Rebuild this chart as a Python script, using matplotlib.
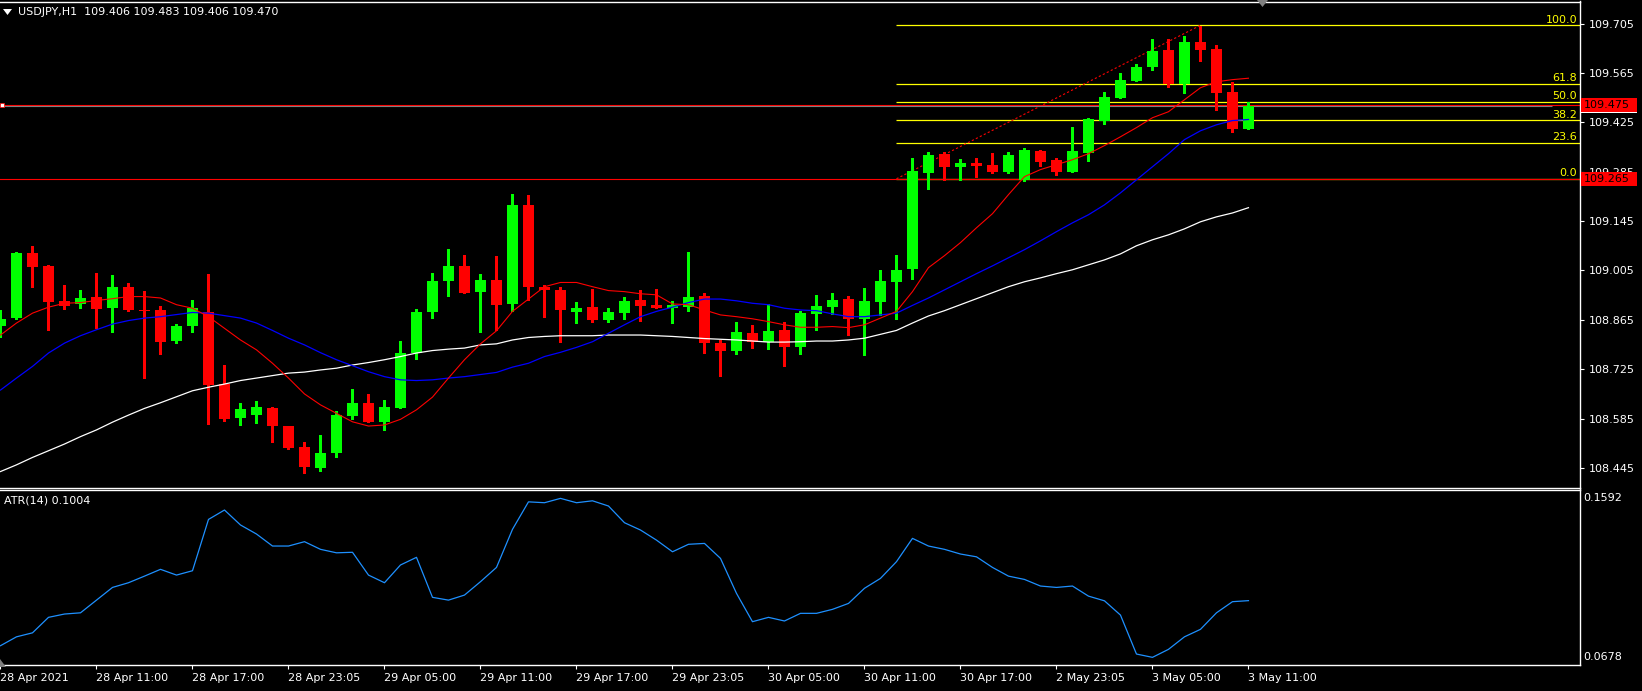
import numpy as np
import matplotlib
matplotlib.use('Agg')
import matplotlib.pyplot as plt
from matplotlib.patches import Rectangle, Polygon
from matplotlib.transforms import blended_transform_factory

# USDJPY H1 candles (bar 0 = 28 Apr 05:00, bar 78 = 3 May 11:00)
opens = [108.849, 108.871, 109.055, 109.018, 108.919, 108.910, 108.930, 108.900, 108.959, 108.893,
         108.893, 108.806, 108.849, 108.888, 108.684, 108.588, 108.595, 108.616, 108.564, 108.505,
         108.446, 108.488, 108.593, 108.629, 108.576, 108.616, 108.771, 108.886, 108.974, 109.018,
         108.945, 108.978, 108.911, 109.191, 108.957, 108.950, 108.888, 108.902, 108.865, 108.885,
         108.922, 108.908, 108.899, 108.902, 108.933, 108.800, 108.778, 108.828, 108.803, 108.837,
         108.787, 108.883, 108.902, 108.925, 108.868, 108.916, 108.973, 109.010, 109.282, 109.336,
         109.299, 109.311, 109.305, 109.285, 109.262, 109.345, 109.319, 109.285, 109.339, 109.430,
         109.495, 109.543, 109.583, 109.631, 109.535, 109.654, 109.634, 109.512, 109.406]
highs = [108.893, 109.057, 109.075, 109.020, 108.964, 108.950, 108.999, 108.993, 108.970, 108.947,
         108.905, 108.853, 108.922, 108.996, 108.737, 108.629, 108.635, 108.618, 108.564, 108.519,
         108.539, 108.607, 108.669, 108.655, 108.638, 108.805, 108.896, 108.999, 109.066, 109.050,
         108.996, 109.047, 109.223, 109.220, 108.964, 108.959, 108.916, 108.953, 108.899, 108.930,
         108.950, 108.953, 108.919, 109.058, 108.942, 108.808, 108.859, 108.851, 108.910, 108.859,
         108.891, 108.936, 108.942, 108.933, 108.956, 109.007, 109.050, 109.325, 109.342, 109.342,
         109.322, 109.325, 109.339, 109.342, 109.353, 109.347, 109.325, 109.413, 109.438, 109.512,
         109.566, 109.591, 109.662, 109.660, 109.671, 109.699, 109.643, 109.540, 109.483]
lows = [108.815, 108.868, 108.957, 108.837, 108.895, 108.900, 108.843, 108.832, 108.889, 108.701,
        108.767, 108.798, 108.832, 108.570, 108.579, 108.567, 108.574, 108.520, 108.498, 108.432,
        108.437, 108.477, 108.585, 108.576, 108.554, 108.616, 108.755, 108.869, 108.934, 108.940,
        108.832, 108.837, 108.889, 108.921, 108.872, 108.801, 108.857, 108.860, 108.860, 108.868,
        108.862, 108.898, 108.856, 108.891, 108.771, 108.707, 108.767, 108.786, 108.781, 108.735,
        108.769, 108.837, 108.882, 108.821, 108.764, 108.879, 108.868, 108.981, 109.237, 109.262,
        109.262, 109.271, 109.282, 109.282, 109.259, 109.302, 109.276, 109.285, 109.316, 109.421,
        109.494, 109.543, 109.572, 109.526, 109.509, 109.600, 109.461, 109.398, 109.406]
closes = [108.868, 109.055, 109.014, 108.917, 108.903, 108.927, 108.897, 108.959, 108.894, 108.891,
          108.803, 108.848, 108.899, 108.681, 108.584, 108.612, 108.618, 108.565, 108.503, 108.449,
          108.488, 108.595, 108.629, 108.576, 108.618, 108.771, 108.888, 108.976, 109.018, 108.940,
          108.978, 108.908, 109.191, 108.957, 108.951, 108.894, 108.899, 108.865, 108.888, 108.919,
          108.905, 108.899, 108.906, 108.930, 108.798, 108.778, 108.831, 108.803, 108.834, 108.787,
          108.885, 108.905, 108.922, 108.868, 108.919, 108.976, 109.007, 109.288, 109.333, 109.299,
          109.311, 109.302, 109.285, 109.333, 109.347, 109.313, 109.285, 109.345, 109.435, 109.498,
          109.546, 109.583, 109.628, 109.535, 109.654, 109.631, 109.509, 109.407, 109.470]

# moving averages as drawn on the chart
ma_red = [108.822, 108.856, 108.884, 108.901, 108.912, 108.914, 108.920, 108.925, 108.931, 108.931,
          108.927, 108.908, 108.898, 108.874, 108.841, 108.808, 108.780, 108.742, 108.700, 108.655,
          108.624, 108.600, 108.576, 108.564, 108.567, 108.583, 108.610, 108.646, 108.700, 108.752,
          108.797, 108.834, 108.889, 108.924, 108.959, 108.971, 108.971, 108.959, 108.948, 108.945,
          108.939, 108.936, 108.910, 108.908, 108.893, 108.879, 108.874, 108.868, 108.860, 108.851,
          108.844, 108.844, 108.846, 108.843, 108.851, 108.870, 108.889, 108.945, 109.013, 109.047,
          109.084, 109.126, 109.166, 109.220, 109.271, 109.291, 109.305, 109.319, 109.336, 109.359,
          109.384, 109.410, 109.438, 109.455, 109.489, 109.523, 109.540, 109.546, 109.550]
ma_blue = [108.666, 108.700, 108.733, 108.771, 108.799, 108.820, 108.837, 108.853, 108.863, 108.870,
           108.874, 108.880, 108.886, 108.884, 108.877, 108.870, 108.856, 108.835, 108.813, 108.794,
           108.772, 108.752, 108.735, 108.718, 108.704, 108.695, 108.693, 108.695, 108.700, 108.704,
           108.710, 108.716, 108.731, 108.742, 108.761, 108.773, 108.787, 108.803, 108.827, 108.851,
           108.874, 108.889, 108.901, 108.914, 108.924, 108.924, 108.919, 108.912, 108.908, 108.898,
           108.893, 108.891, 108.882, 108.874, 108.874, 108.879, 108.884, 108.906, 108.927, 108.950,
           108.973, 108.996, 109.018, 109.041, 109.064, 109.089, 109.115, 109.140, 109.163, 109.191,
           109.225, 109.262, 109.299, 109.336, 109.376, 109.401, 109.418, 109.430, 109.433]
ma_white = [108.435, 108.454, 108.475, 108.494, 108.513, 108.534, 108.553, 108.575, 108.595, 108.614,
            108.630, 108.647, 108.664, 108.674, 108.683, 108.693, 108.700, 108.707, 108.714, 108.717,
            108.723, 108.728, 108.737, 108.744, 108.752, 108.761, 108.771, 108.778, 108.782, 108.785,
            108.794, 108.797, 108.808, 108.815, 108.818, 108.820, 108.820, 108.820, 108.822, 108.822,
            108.822, 108.820, 108.818, 108.815, 108.812, 108.810, 108.808, 108.805, 108.802, 108.802,
            108.803, 108.805, 108.805, 108.808, 108.813, 108.824, 108.835, 108.856, 108.876, 108.891,
            108.908, 108.925, 108.942, 108.959, 108.973, 108.984, 108.996, 109.007, 109.021, 109.035,
            109.052, 109.075, 109.092, 109.106, 109.123, 109.143, 109.157, 109.168, 109.183]

atr = [0.0745, 0.0796, 0.0819, 0.0908, 0.0927, 0.0934, 0.1007, 0.1080, 0.1107, 0.1145,
       0.1184, 0.1151, 0.1176, 0.1471, 0.1525, 0.1439, 0.1387, 0.1318, 0.1318, 0.1343,
       0.1299, 0.1279, 0.1282, 0.1151, 0.1107, 0.1209, 0.1253, 0.1023, 0.1007, 0.1036,
       0.1113, 0.1195, 0.1414, 0.1572, 0.1567, 0.1592, 0.1567, 0.1578, 0.1548, 0.1452,
       0.1410, 0.1352, 0.1285, 0.1328, 0.1333, 0.1247, 0.1046, 0.0883, 0.0908, 0.0887,
       0.0931, 0.0931, 0.0954, 0.0988, 0.1075, 0.1132, 0.1228, 0.1362, 0.1318, 0.1299,
       0.1272, 0.1256, 0.1195, 0.1145, 0.1126, 0.1088, 0.1080, 0.1088, 0.1030, 0.1003,
       0.0921, 0.0697, 0.0678, 0.0724, 0.0796, 0.0839, 0.0934, 0.0998, 0.1004]

price_ticks = [108.445, 108.585, 108.725, 108.865, 109.005, 109.145, 109.285, 109.425, 109.565, 109.705]
time_ticks = [0, 6, 12, 18, 24, 30, 36, 42, 48, 54, 60, 66, 72, 78]
time_labels = ['28 Apr 2021', '28 Apr 11:00', '28 Apr 17:00', '28 Apr 23:05', '29 Apr 05:00',
               '29 Apr 11:00', '29 Apr 17:00', '29 Apr 23:05', '30 Apr 05:00', '30 Apr 11:00',
               '30 Apr 17:00', '2 May 23:05', '3 May 05:00', '3 May 11:00']

fib_start, fib_end = 56, 75
fib_low, fib_high = 109.265, 109.700
fib_ratios = [0.0, 0.236, 0.382, 0.5, 0.618, 1.0]
fib_names = ['0.0', '23.6', '38.2', '50.0', '61.8', '100.0']
hline_price = 109.475
bid_price = closes[-1]

W, H = 1642, 691
FS = 8
plt.rcParams['font.family'] = ['DejaVu Sans']

fig = plt.figure(figsize=(W / 100, H / 100), dpi=100, facecolor='black')
ax = fig.add_axes([0, 1 - 487.7 / H, 1579.5 / W, (487.7 - 1.5) / H], facecolor='black')
atr_ax = fig.add_axes([0, 1 - 665 / H, 1579.5 / W, (665 - 489.5) / H], facecolor='black')

xlim = (-0.031, 98.69)
ylim = (108.3892, 109.7675)
px_price = (ylim[1] - ylim[0]) / (487.7 - 1.5)

x = np.arange(len(opens))
o, h, l, c = map(np.array, (opens, highs, lows, closes))
up = c >= o
cols = np.where(up, '#00FF00', '#FF0000')

# candles
ax.vlines(x, l, h, colors=cols, linewidth=0.75, antialiased=False, zorder=2)
ax.bar(x, np.maximum(np.abs(c - o), px_price), bottom=np.minimum(o, c), width=0.69,
       color=cols, edgecolor='none', antialiased=False, zorder=3)

ax.plot(x, ma_white, color='white', lw=0.9, zorder=4)
ax.plot(x, ma_blue, color='#0000FF', lw=0.9, zorder=4)
ax.plot(x, ma_red, color='#FF0000', lw=0.8, zorder=4)

# fibonacci retracement
fib_levels = [fib_low + r * (fib_high - fib_low) for r in fib_ratios]
ax.hlines(fib_levels, fib_start, xlim[1], colors='#FFFF00', lw=0.9, zorder=1)
ax.plot([fib_start, fib_end], [fib_low, fib_high], color='#FF0000', lw=0.8, ls=(0, (2, 2)), zorder=1)
lab_tf = blended_transform_factory(ax.transAxes, ax.transData)
for lev, name in zip(fib_levels, fib_names):
    ax.text(0.9986, lev + 0.6 * px_price, name, transform=lab_tf, ha='right', va='bottom',
            color='#FFFF00', fontsize=FS)

# horizontal lines
ax.axhline(fib_low, color='#FF0000', lw=0.8, zorder=1)
ax.axhline(hline_price, color='#FF0000', lw=0.8, zorder=1)
ax.hlines(bid_price, xlim[0], (1552 - 0.5) / 16, colors='#808080', lw=0.8, zorder=1)

ax.set_xlim(xlim)
ax.set_ylim(ylim)
ax.set_yticks(price_ticks)
ax.set_yticklabels([f'{p:.3f}' for p in price_ticks])
ax.yaxis.tick_right()
ax.tick_params(axis='y', colors='white', length=3, width=0.8, pad=4, labelsize=FS)
ax.tick_params(axis='x', bottom=False, labelbottom=False)

atr_ax.plot(x, atr, color='#1E90FF', lw=0.9)
atr_ax.set_xlim(xlim)
atr_ax.set_ylim(0.0634, 0.1643)
atr_ax.set_yticks([])
atr_ax.set_xticks(time_ticks)
atr_ax.set_xticklabels(time_labels, ha='left')
atr_ax.tick_params(axis='x', colors='white', length=3, width=0.8, pad=3, labelsize=FS)

for a in (ax, atr_ax):
    a.spines['left'].set_visible(False)
    for s in ('top', 'right', 'bottom'):
        a.spines[s].set_color('white')
        a.spines[s].set_linewidth(1.0)

# price boxes on the right scale
price_tf = blended_transform_factory(fig.transFigure, ax.transData)
for price, fc in ((bid_price, 'white'), (hline_price, '#FF0000'), (fib_low, '#FF0000')):
    fig.add_artist(Rectangle((1581 / W, price - 7 * px_price), 56 / W, 14 * px_price,
                             transform=price_tf, facecolor=fc, edgecolor='none', zorder=5))
for price in (hline_price, fib_low):
    fig.text(1584 / W, price, f'{price:.3f}', transform=price_tf, va='center', ha='left',
             color='black', fontsize=FS, zorder=6)
fig.add_artist(Rectangle((0, hline_price - 2 * px_price), 4 / W, 4 * px_price, transform=price_tf,
                         facecolor='white', edgecolor='#FF0000', lw=0.5, zorder=5))

atr_tf = blended_transform_factory(fig.transFigure, atr_ax.transData)
for v in (max(atr), min(atr)):
    fig.text(1583 / W, v, f'{v:.4f}', transform=atr_tf, va='center', ha='left',
             color='white', fontsize=FS)

# header texts and markers
fig.add_artist(Polygon([(3 / W, 1 - 9 / H), (12 / W, 1 - 9 / H), (7.5 / W, 1 - 15 / H)],
                       closed=True, transform=fig.transFigure, facecolor='white', edgecolor='none'))
fig.text(18 / W, 1 - 12.3 / H, f'USDJPY,H1  {opens[-1]:.3f} {highs[-1]:.3f} {lows[-1]:.3f} {closes[-1]:.3f}',
         color='white', fontsize=FS, va='center', ha='left')
fig.text(4 / W, 1 - 500.7 / H, f'ATR(14) {atr[-1]:.4f}', color='white', fontsize=FS, va='center', ha='left')
fig.add_artist(Polygon([(1257 / W, 1.0), (1268 / W, 1.0), (1262.5 / W, 1 - 7 / H)], closed=True,
                       transform=fig.transFigure, facecolor='#808080', edgecolor='none'))
fig.add_artist(Polygon([(0, 1 - 659 / H), (6 / W, 1 - 667 / H), (0, 1 - 667 / H)], closed=True,
                       transform=fig.transFigure, facecolor='#808080', edgecolor='none'))

fig.savefig('out.png', dpi=100, facecolor='black')
